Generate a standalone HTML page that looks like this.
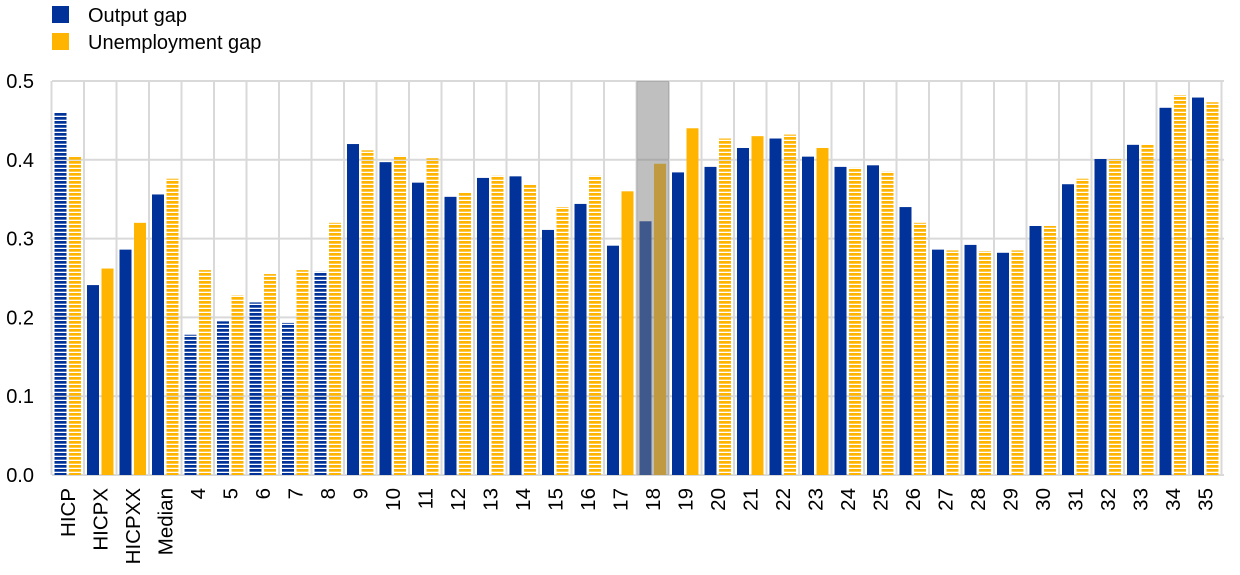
<!DOCTYPE html>
<html><head><meta charset="utf-8"><style>body{margin:0;background:#fff}svg{display:block;font-family:"Liberation Sans",Arial,sans-serif}</style></head>
<body>
<svg id="s" width="1240" height="575" xmlns="http://www.w3.org/2000/svg">
<defs>
<pattern id="hb" width="8" height="4" patternUnits="userSpaceOnUse"><rect y="1" width="8" height="2.7" fill="#003299"/></pattern>
<pattern id="ho" width="8" height="4" patternUnits="userSpaceOnUse"><rect y="1" width="8" height="2.7" fill="#ffb400"/></pattern>
</defs>
<rect x="52" y="6" width="17" height="17" fill="#003299"/>
<text x="88" y="22" font-size="20">Output gap</text>
<rect x="52" y="33" width="17" height="17" fill="#ffb400"/>
<text x="88" y="49" font-size="20">Unemployment gap</text>
<g id="g"></g>
</svg>
<script>
var d=[["HICP",.46,1,.405,1],["HICPX",.241,0,.262,0],["HICPXX",.286,0,.32,0],["Median",.356,0,.376,1],
["4",.178,1,.26,1],["5",.195,1,.228,1],["6",.219,1,.255,1],["7",.193,1,.26,1],["8",.258,1,.32,1],
["9",.42,0,.412,1],["10",.397,0,.405,1],["11",.371,0,.402,1],["12",.353,0,.358,1],["13",.377,0,.38,1],
["14",.379,0,.368,1],["15",.311,0,.34,1],["16",.344,0,.38,1],["17",.291,0,.36,0],["18",.322,0,.395,0],
["19",.384,0,.44,0],["20",.391,0,.427,1],["21",.415,0,.43,0],["22",.427,0,.432,1],["23",.404,0,.415,0],
["24",.391,0,.39,1],["25",.393,0,.385,1],["26",.34,0,.32,1],["27",.286,0,.285,1],["28",.292,0,.284,1],
["29",.282,0,.285,1],["30",.316,0,.316,1],["31",.369,0,.376,1],["32",.401,0,.401,1],["33",.419,0,.42,1],
["34",.466,0,.482,1],["35",.479,0,.473,1]];
var x0=51.5,w=32.5,y0=475,k=788,h="";
for(var i=0;i<=5;i++){var y=y0-i*0.1*k;h+='<line x1="52" x2="1224" y1="'+y+'" y2="'+y+'" stroke="#d9d9d9" stroke-width="2"/>';
h+='<text x="34" y="'+(y+7)+'" font-size="20" text-anchor="end">'+(i/10).toFixed(1)+'</text>';}
for(var i=0;i<=36;i++){var x=x0+i*w;h+='<line x1="'+x+'" x2="'+x+'" y1="81" y2="475" stroke="#d9d9d9" stroke-width="2"/>';}
d.forEach(function(r,i){var x=x0+i*w;
var hb=r[1]*k,ho=r[3]*k;
h+='<rect x="'+(x+3)+'" y="'+(y0-hb)+'" width="12" height="'+hb+'" fill="'+(r[2]?'url(#hb)':'#003299')+'"/>';
h+='<rect x="'+(x+17.5)+'" y="'+(y0-ho)+'" width="12" height="'+ho+'" fill="'+(r[4]?'url(#ho)':'#ffb400')+'"/>';
var cx=x+w/2+7;
h+='<text transform="translate('+cx+',488) rotate(-90)" font-size="20.5" text-anchor="end">'+r[0]+'</text>';});
h+='<rect x="'+(x0+18*w)+'" y="81" width="'+w+'" height="394" fill="rgb(127,127,127)" fill-opacity="0.5"/>';
document.getElementById("g").innerHTML=h;
</script>
</body></html>
